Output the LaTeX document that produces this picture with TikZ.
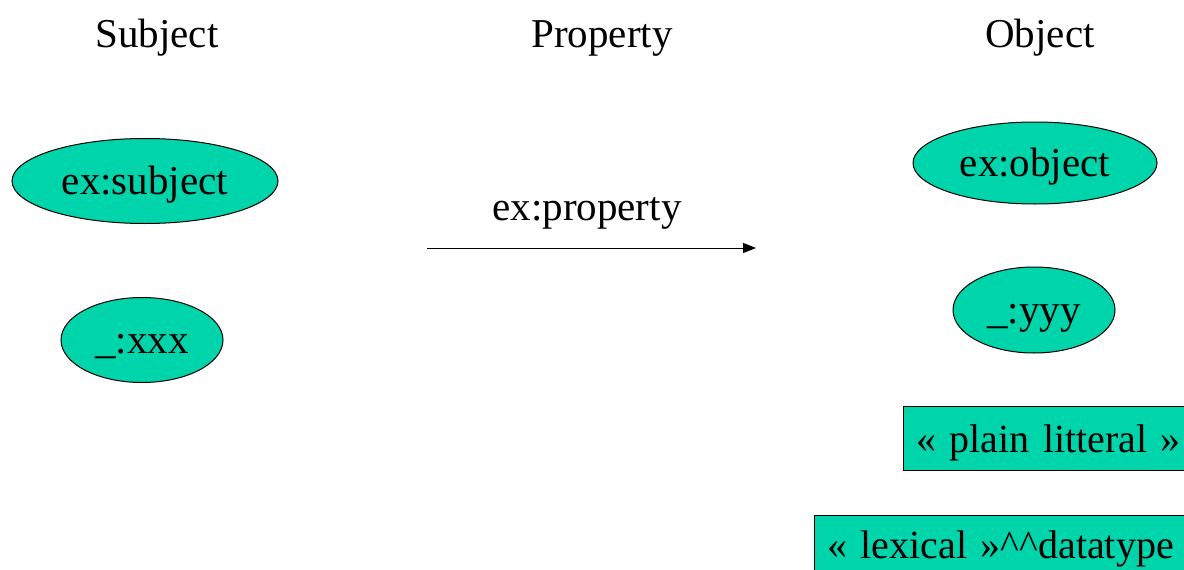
\documentclass[tikz,border=0pt]{standalone}
\usepackage{fontspec}
\setmainfont{Liberation Serif}
\usetikzlibrary{shapes.geometric,arrows.meta}
\definecolor{nodefill}{RGB}{0,212,170}
\tikzset{
  lbl/.style={font=\fontsize{41}{48}\selectfont, inner sep=0pt},
  heading/.style={lbl, anchor=base},
  res/.style={lbl, ellipse, draw=black, line width=1pt, fill=nodefill, text height=27pt, text depth=0pt},
  lit/.style={lbl, rectangle, draw=black, line width=1pt, fill=nodefill, anchor=west, align=left,
              font=\fontsize{40}{48}\selectfont}
}
\begin{document}
\begin{tikzpicture}[x=1pt,y=-1pt]
\useasboundingbox (0,0) rectangle (1184,570);
\clip (0,0) rectangle (1184,570);
% column headings
\node[heading] (hs) at (157,47) {Subject};
\node[heading] (hp) at (602,47) {Property};
\node[heading] (ho) at (1040,47) {Object};
% subjects
\node[res, minimum width=266, minimum height=85] (subj) at (145,181) {ex:subject};
\node[res, minimum width=162, minimum height=85] (bx) at (142,340) {\_:xxx};
% property
\node[heading] (prop) at (587,220) {ex:property};
\coordinate (pa) at (427,248);
\coordinate (pb) at (756,248);
\draw[line width=1pt, -{Triangle[length=13pt,width=10pt]}] (pa) -- (pb);
% objects
\node[res, minimum width=244, minimum height=82] (obj) at (1035,163) {ex:object};
\node[res, minimum width=162, minimum height=86] (by) at (1034,310) {\_:yyy};
\node[lit, minimum width=300, minimum height=64, text width=284, inner xsep=13pt,
      text height=29pt, text depth=0pt] (pl) at (903,438) {« plain litteral »};
\node[lit, minimum width=400, minimum height=80, text width=384, inner xsep=13pt,
      text height=29pt, text depth=23pt] (tl) at (814,555) {« lexical »\textasciicircum\textasciicircum datatype};
\end{tikzpicture}
\end{document}
